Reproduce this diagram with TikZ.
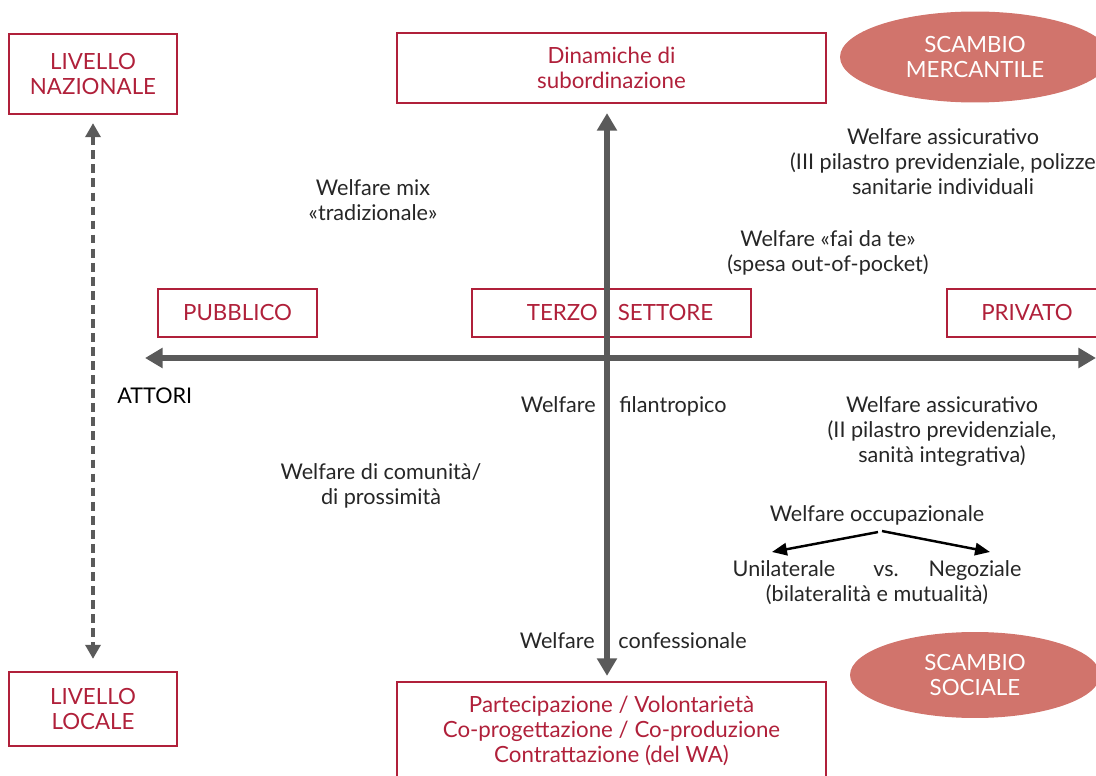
\documentclass[tikz,border=0pt]{standalone}
\usepackage{fontspec}
\setmainfont{Lato}
\usetikzlibrary{arrows.meta,shapes.geometric}
\definecolor{wine}{HTML}{B0203A}
\definecolor{salmon}{HTML}{D1746C}
\definecolor{axisgray}{HTML}{5A5A5A}
\colorlet{inkdark}{black!85}
\tikzset{
  map/text/.style={font=\fontsize{12.3pt}{14.2pt}\selectfont, inner sep=0pt, align=center},
  map/box/.style={map/text, font=\fontsize{12.7pt}{14pt}\selectfont, draw=wine, line width=1.3pt, text=wine},
  map/oval/.style={map/text, font=\fontsize{12.7pt}{14pt}\selectfont, ellipse, fill=salmon, text=white},
  map/note/.style={map/text, text=inkdark},
  map/axis/.style={axisgray, line width=3.9pt, {Triangle[width=11pt,length=10pt]}-{Triangle[width=11pt,length=10pt]}},
  map/level/.style={axisgray, line width=2pt, dash pattern=on 5pt off 3pt, {Triangle[width=8.5pt,length=8pt]}-{Triangle[width=8.5pt,length=8pt]}},
  map/fork/.style={black, line width=1.4pt, -{Triangle[width=7pt,length=8.5pt]}}
}
\begin{document}
\begin{tikzpicture}[x=0.02cm, y=-0.02cm]
  \useasboundingbox (0,0) rectangle (1096,776);
  \clip (0,0) rectangle (1096,776);
\node[map/box, minimum width=3.36cm, minimum height=1.6cm] (nazionale) at (93,74) {LIVELLO\\NAZIONALE};
\node[map/box, minimum width=3.36cm, minimum height=1.48cm] (locale) at (93,709) {LIVELLO\\LOCALE};
\node[map/box, minimum width=8.58cm, minimum height=1.4cm] (dinamiche) at (611.5,68) {Dinamiche di\\subordinazione};
\node[map/box, minimum width=3.18cm, minimum height=0.96cm] (pubblico) at (237.5,313) {PUBBLICO};
\node[map/box, minimum width=5.58cm, minimum height=0.96cm] (terzo) at (611.5,313) {\hspace*{0.34cm}TERZO\hspace{0.4cm}SETTORE};
\node[map/box, minimum width=3.2cm, minimum height=0.96cm] (privato) at (1027,313) {PRIVATO};
\node[map/box, minimum width=8.58cm, minimum height=1.96cm] (partecipa) at (611.5,731) {Partecipazione / Volontarietà\\Co-progettazione / Co-produzione\\Contrattazione (del WA)};
\node[map/oval, minimum width=5.4cm, minimum height=1.82cm] (mercantile) at (975,57) {SCAMBIO\\MERCANTILE};
\node[map/oval, minimum width=5.0cm, minimum height=1.72cm] (sociale) at (975,675) {SCAMBIO\\SOCIALE};
\node[map/note] (mix) at (373,200) {Welfare mix\\«tradizionale»};
\node[map/note] (assicIII) at (943,162) {Welfare assicurativo\\(III pilastro previdenziale, polizze\\sanitarie individuali};
\node[map/note] (faidate) at (828,252.5) {Welfare «fai da te»\\(spesa out-of-pocket)};
\node[map/note, text=black, anchor=base west] (attori) at (117,404) {ATTORI};
\node[map/note, anchor=base east] (filanL) at (596,413) {Welfare};
\node[map/note, anchor=base west] (filanR) at (619,413) {filantropico};
\node[map/note] (assicII) at (942,431.5) {Welfare assicurativo\\(II pilastro previdenziale,\\sanità integrativa)};
\node[map/note] (comunita) at (381,485.5) {Welfare di comunità/\\di prossimità};
\node[map/note, anchor=base] (occup) at (877,522) {Welfare occupazionale};
\node[map/note, anchor=base] (unil) at (784,577) {Unilaterale};
\node[map/note, anchor=base] (vs) at (886,577) {vs.};
\node[map/note, anchor=base] (negoz) at (975,577) {Negoziale};
\node[map/note, anchor=base] (bilat) at (877,602) {(bilateralità e mutualità)};
\node[map/note, anchor=base east] (confL) at (595,649) {Welfare};
\node[map/note, anchor=base west] (confR) at (618,649) {confessionale};
\coordinate (ovest) at (145,358);
\coordinate (est) at (1096,358);
\coordinate (unilTip) at (772,552);
\coordinate (negozTip) at (990,552);
\draw[map/axis] (ovest) -- (est);
\draw[map/axis, shorten <=0.18cm, shorten >=0.1cm] ([xshift=-0.09cm]dinamiche.south) -- ([xshift=-0.09cm]partecipa.north);
\draw[map/level, shorten <=0.16cm, shorten >=0.24cm] (nazionale.south) -- (locale.north);
\draw[map/fork] ([xshift=0.02cm,yshift=-0.12cm]occup.south) -- (unilTip);
\draw[map/fork] ([xshift=0.1cm,yshift=-0.1cm]occup.south) -- (negozTip);
\end{tikzpicture}
\end{document}
